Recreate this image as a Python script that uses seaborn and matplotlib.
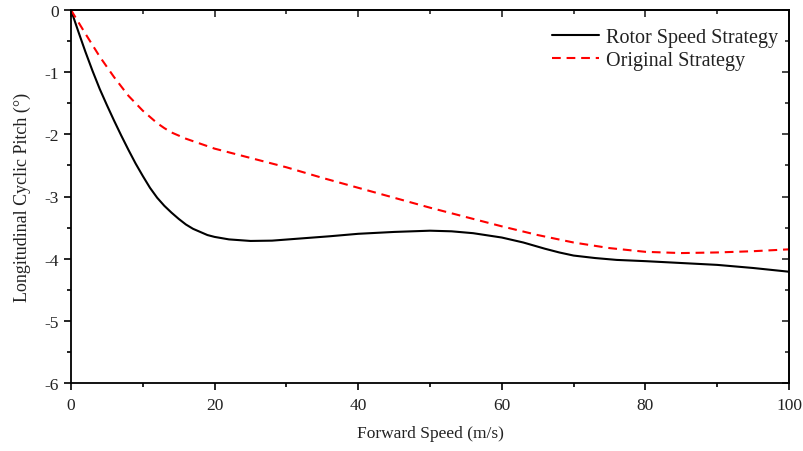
import numpy as np
import pandas as pd
import matplotlib
matplotlib.use("Agg")
import matplotlib.pyplot as plt
import seaborn as sns

speed_rotor = [0, 1, 2, 3, 4, 5, 6, 7, 8, 9, 10, 11, 12, 13, 14, 15, 16, 17, 18, 19, 20, 22, 25, 28, 32, 36, 40, 45, 50, 53, 56, 60, 63, 66, 68, 70, 73, 76, 80, 85, 90, 95, 100]
pitch_rotor = [0, -0.34, -0.67, -0.98, -1.27, -1.53, -1.78, -2.02, -2.25, -2.47, -2.67, -2.86, -3.02, -3.15, -3.26, -3.36, -3.45, -3.52, -3.57, -3.62, -3.65, -3.69, -3.715, -3.71, -3.675, -3.64, -3.60, -3.57, -3.55, -3.56, -3.59, -3.66, -3.74, -3.84, -3.9, -3.95, -3.99, -4.02, -4.04, -4.07, -4.1, -4.15, -4.21]

speed_orig = [0, 2, 4, 6, 8, 10, 11, 12, 13, 14, 15, 16, 18, 20, 25, 30, 35, 40, 45, 50, 55, 60, 65, 70, 75, 80, 85, 90, 95, 100]
pitch_orig = [0, -0.38, -0.75, -1.08, -1.38, -1.62, -1.72, -1.82, -1.90, -1.97, -2.02, -2.07, -2.15, -2.23, -2.38, -2.53, -2.70, -2.86, -3.02, -3.18, -3.33, -3.48, -3.62, -3.74, -3.83, -3.89, -3.91, -3.9, -3.88, -3.85]

xticks = [0, 20, 40, 60, 80, 100]
yticks = [0, -1, -2, -3, -4, -5, -6]

sns.set_theme(style="ticks")
plt.rcParams['font.family'] = ['Liberation Serif', 'DejaVu Serif']

fig = plt.figure(figsize=(8.04, 4.52), dpi=100)
ax = fig.add_axes([71/804, 68/452, 718/804, 373/452])

df1 = pd.DataFrame({"x": speed_rotor, "y": pitch_rotor})
df2 = pd.DataFrame({"x": speed_orig, "y": pitch_orig})
sns.lineplot(data=df1, x="x", y="y", ax=ax, color="black", lw=1.5, label="Rotor Speed Strategy")
sns.lineplot(data=df2, x="x", y="y", ax=ax, color="red", lw=1.5, linestyle=(0, (4.2, 2.8)), label="Original Strategy")

ax.set_xlim(0, 100)
ax.set_ylim(-6, 0)
ax.set_xticks(xticks)
ax.set_xticks(np.arange(10, 100, 20), minor=True)
ax.set_yticks(yticks)
ax.set_yticks(np.arange(-5.5, 0, 1.0), minor=True)
ax.set_xticklabels([str(v) for v in xticks])
ax.set_yticklabels([str(v) for v in yticks])
ax.tick_params(axis='both', which='major', direction='out', length=5, width=1.2, labelsize=12.5, color='black', labelcolor='#222222')
ax.tick_params(axis='x', which='major', pad=5)
ax.tick_params(axis='both', which='minor', direction='out', length=3, width=1.2, color='black')
for s in ax.spines.values():
    s.set_linewidth(1.3)
    s.set_color('black')

top = ax.secondary_xaxis('top')
top.set_xticks(xticks)
top.set_xticks(np.arange(10, 100, 20), minor=True)
top.tick_params(which='major', direction='in', length=5, width=1.2, labeltop=False)
top.tick_params(which='minor', direction='in', length=3, width=1.2)
right = ax.secondary_yaxis('right')
right.set_yticks(yticks)
right.set_yticks(np.arange(-5.5, 0, 1.0), minor=True)
right.tick_params(which='major', direction='in', length=5, width=1.2, labelright=False)
right.tick_params(which='minor', direction='in', length=3, width=1.2)
for sa in (top, right):
    for s in sa.spines.values():
        s.set_linewidth(1.3)

ax.set_xlabel("Forward Speed (m/s)", fontsize=12.5, color='#222222', labelpad=9)
ax.set_ylabel("Longitudinal Cyclic Pitch (°)", fontsize=13, color='#222222', labelpad=10)

leg = ax.legend(loc="upper right", bbox_to_anchor=(1.0, 0.981), frameon=False, fontsize=14.5,
                handlelength=2.3, handletextpad=0.35, borderaxespad=0.15, labelspacing=0.2)
for t in leg.get_texts():
    t.set_color('#222222')

fig.savefig("out.png", dpi=100)
